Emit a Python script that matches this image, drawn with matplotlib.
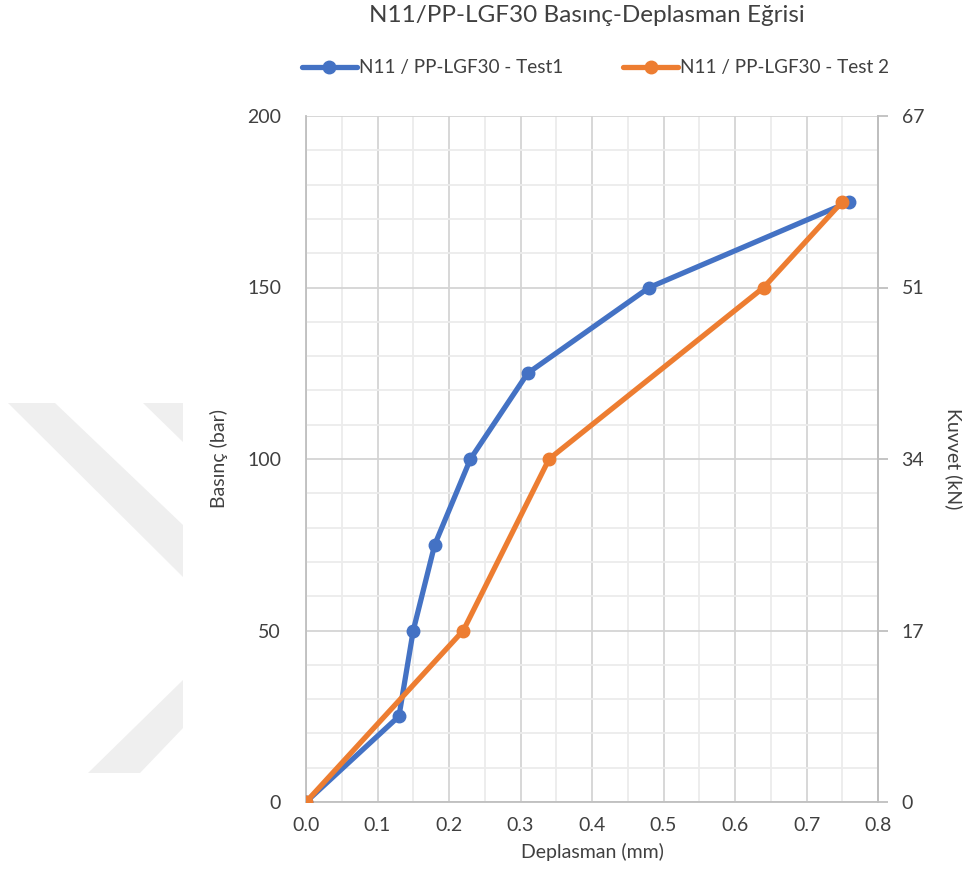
import numpy as np
import matplotlib.pyplot as plt
from matplotlib.patches import Polygon
from matplotlib.ticker import MultipleLocator

plt.rcParams['font.family'] = ['Lato', 'DejaVu Sans']

# Test 1
x1 = [0.0, 0.13, 0.15, 0.18, 0.23, 0.31, 0.48, 0.76]
y1 = [0, 25, 50, 75, 100, 125, 150, 175]
# Test 2
x2 = [0.0, 0.22, 0.34, 0.64, 0.75]
y2 = [0, 50, 100, 150, 175]

right_ticks = [0, 17, 34, 51, 67]
label1 = "N11 / PP-LGF30 - Test1"
label2 = "N11 / PP-LGF30 - Test 2"

blue = "#4472C4"
orange = "#ED7D31"
txt = '#404040'

fig = plt.figure(figsize=(9.67, 8.86), dpi=100)

# faint watermark at the left edge
wm = "#efefef"
W, H = 967.0, 886.0
def fp(pts):
    return [(px / W, 1 - py / H) for px, py in pts]
for shape in [
    [(8, 403), (55, 403), (183, 525), (183, 577)],
    [(143, 403), (183, 403), (183, 442)],
    [(183, 680), (183, 728), (140, 773), (88, 773)],
]:
    fig.patches.append(Polygon(fp(shape), closed=True, transform=fig.transFigure,
                               facecolor=wm, edgecolor='none', zorder=0))

ax = fig.add_axes([306 / W, 1 - 802 / H, (878 - 306) / W, (802 - 116) / H])
ax.set_xlim(0, 0.8)
ax.set_ylim(0, 200)
ax.xaxis.set_major_locator(MultipleLocator(0.1))
ax.xaxis.set_minor_locator(MultipleLocator(0.05))
ax.yaxis.set_major_locator(MultipleLocator(50))
ax.yaxis.set_minor_locator(MultipleLocator(10))
ax.grid(which='major', color='#d4d4d4', lw=1.3)
ax.grid(which='minor', color='#ececec', lw=1.3)
ax.set_axisbelow(True)
ax.set_xticks(np.arange(0, 0.81, 0.1))
ax.set_xticklabels([f"{v:.1f}" for v in np.arange(0, 0.81, 0.1)])
ax.tick_params(which='both', length=0, labelsize=14, colors=txt, pad=11)
ax.tick_params(axis='y', pad=18)
ax.spines['top'].set_visible(False)
for s in ['left', 'bottom', 'right']:
    ax.spines[s].set_color('#bfbfbf')
    ax.spines[s].set_linewidth(1.3)

ax.plot(x1, y1, color=blue, lw=3.8, marker='o', ms=9, label=label1, zorder=3,
        solid_capstyle='round')
ax.plot(x2, y2, color=orange, lw=3.8, marker='o', ms=9, label=label2, zorder=4,
        solid_capstyle='round')

ax.set_xlabel("Deplasman (mm)", fontsize=14, color=txt, labelpad=6)
ax.set_ylabel("Basınç (bar)", fontsize=14, color=txt, labelpad=14)

ax2 = ax.twinx()
ax2.set_ylim(0, 67)
ax2.set_yticks(np.linspace(0, 67, len(right_ticks)))
ax2.set_yticklabels([str(t) for t in right_ticks])
ax2.tick_params(axis='y', length=7, width=1.3, color='#bfbfbf', labelsize=14,
                labelcolor=txt, pad=10)
for s in ['top', 'left', 'bottom']:
    ax2.spines[s].set_visible(False)
ax2.spines['right'].set_color('#bfbfbf')
ax2.spines['right'].set_linewidth(1.3)
ax2.set_ylabel("Kuvvet (kN)", fontsize=14, color=txt, rotation=-90,
               labelpad=28)

fig.text(587 / W, 1 - 16 / H, "N11/PP-LGF30 Basınç-Deplasman Eğrisi", ha='center',
         va='center', fontsize=17.5, color=txt)

leg = ax.legend(loc='center', bbox_to_anchor=(0.506, 1 + (116 - 68) / (802 - 116)),
                ncol=2, frameon=False, fontsize=13.6, handlelength=2.9,
                columnspacing=3.2, handletextpad=0.1, labelcolor=txt)

fig.savefig("out.png", dpi=100, facecolor='white')
